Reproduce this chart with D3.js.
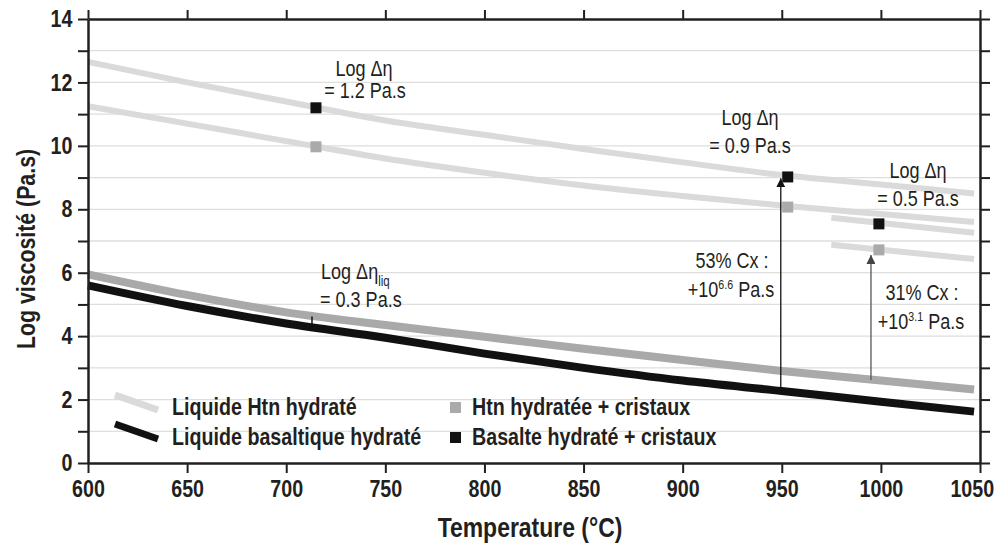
<!DOCTYPE html>
<html>
<head>
<meta charset="utf-8">
<script src="https://d3js.org/d3.v7.min.js"></script>
<style>
  body { margin: 0; background: #fff; }
  text { font-family: "Liberation Sans", Arial, sans-serif; fill: #231f20; }
  .axis path, .axis line { stroke: #231f20; }
</style>
</head>
<body>
<svg width="1000" height="544"></svg>
<script>
// liquid viscosity curves (log Pa.s) vs temperature
const temps = [600, 650, 700, 750, 800, 850, 900, 950, 1000, 1047];
const htnHigh = [12.65, 12.0, 11.4, 10.8, 10.35, 9.9, 9.48, 9.08, 8.78, 8.5];
const htnLow = [11.25, 10.7, 10.15, 9.6, 9.15, 8.75, 8.42, 8.12, 7.85, 7.6];
const htnLiquid = [5.95, 5.3, 4.75, 4.35, 3.98, 3.6, 3.25, 2.9, 2.6, 2.32];
const basaltLiquid = [5.6, 4.95, 4.4, 3.95, 3.45, 3.0, 2.6, 2.27, 1.93, 1.62];

// short segments near 1000 °C
const shortTemps = [975, 1047];
const shortHigh = [7.73, 7.26];
const shortLow = [6.88, 6.43];

// crystal-bearing samples
const crystTemps = [715, 953, 999];
const htnCryst = [9.97, 8.07, 6.72];
const basaltCryst = [11.2, 9.02, 7.54];

// arrows (from liquid curve up to crystal-bearing sample)
const arrowTemps = [949.5, 995];
const arrowFrom = [2.3, 2.62];
const arrowTo = [8.98, 6.56];

const xTicks = [600, 650, 700, 750, 800, 850, 900, 950, 1000, 1050];
const yTicks = [0, 1, 2, 3, 4, 5, 6, 7, 8, 9, 10, 11, 12, 13, 14];

const NARROW = 0.82; // squeeze text to look like a condensed face

const svg = d3.select("svg");
const x = d3.scaleLinear().domain([600, 1050]).range([88, 980]);
const y = d3.scaleLinear().domain([0, 14]).range([463, 19]);

// grid
svg.append("g").selectAll("line")
  .data(yTicks.filter(d => d > 0 && d < 14))
  .enter().append("line")
  .attr("x1", x(600)).attr("x2", x(1050))
  .attr("y1", d => y(d)).attr("y2", d => y(d))
  .style("stroke", "#dedede").style("stroke-width", 1.3);

const line = (xs, ys) => d3.line().curve(d3.curveMonotoneX)
  .x((d, i) => x(xs[i])).y(d => y(d))(ys);

const curves = [
  { ys: htnHigh, xs: temps, color: "#dadada", w: 6 },
  { ys: htnLow, xs: temps, color: "#dadada", w: 6 },
  { ys: shortHigh, xs: shortTemps, color: "#dadada", w: 6 },
  { ys: shortLow, xs: shortTemps, color: "#dadada", w: 6 },
  { ys: htnLiquid, xs: temps, color: "#a9a9a9", w: 8 },
  { ys: basaltLiquid, xs: temps, color: "#111", w: 8 }
];
svg.append("g").selectAll("path")
  .data(curves).enter().append("path")
  .attr("d", d => line(d.xs, d.ys))
  .style("fill", "none")
  .style("stroke", d => d.color)
  .style("stroke-width", d => d.w);

// arrows
const defs = svg.append("defs");
["#111", "#444"].forEach((c, i) => {
  defs.append("marker").attr("id", "arr" + i)
    .attr("viewBox", "0 0 10 10").attr("refX", 10).attr("refY", 5)
    .attr("markerWidth", 9).attr("markerHeight", 9)
    .attr("markerUnits", "userSpaceOnUse").attr("orient", "auto")
    .append("path").attr("d", "M0,0L10,5L0,10Z").style("fill", c);
});
svg.append("g").selectAll("line")
  .data(arrowTemps).enter().append("line")
  .attr("x1", d => x(d)).attr("x2", d => x(d))
  .attr("y1", (d, i) => y(arrowFrom[i])).attr("y2", (d, i) => y(arrowTo[i]))
  .style("stroke", (d, i) => i ? "#555" : "#111")
  .style("stroke-width", 1.3)
  .attr("marker-end", (d, i) => "url(#arr" + i + ")");

// small tick between liquids at 715
svg.append("line")
  .attr("x1", x(713)).attr("x2", x(713))
  .attr("y1", y(4.3)).attr("y2", y(4.62))
  .style("stroke", "#111").style("stroke-width", 1.5);

// squares
const sq = 11;
[[htnCryst, "#aaaaaa"], [basaltCryst, "#111"]].forEach(([vals, c]) => {
  svg.append("g").selectAll("rect")
    .data(vals).enter().append("rect")
    .attr("x", (d, i) => x(crystTemps[i]) - sq / 2)
    .attr("y", d => y(d) - sq / 2)
    .attr("width", sq).attr("height", sq)
    .style("fill", c);
});

// axes
const fmtBold = g => g.selectAll("text")
  .attr("transform", `scale(${NARROW},1)`)
  .style("font-size", "24px").style("font-weight", "bold").style("fill", "#231f20");
const styleAxis = g => {
  g.attr("class", "axis");
  g.select(".domain").style("stroke-width", 2.5);
  g.selectAll(".tick line").style("stroke-width", 2);
};

const xAxisG = svg.append("g").attr("transform", "translate(0,463)")
  .call(d3.axisBottom(x).tickValues(xTicks).tickSize(10).tickSizeOuter(0).tickPadding(7)
    .tickFormat(d3.format("d")))
  .call(styleAxis).call(fmtBold);
// keep the last label inside the frame
xAxisG.selectAll(".tick text").filter(d => d === 1050).attr("x", -10);

svg.append("g").attr("transform", "translate(0,19)")
  .call(d3.axisTop(x).tickValues(xTicks).tickSize(9).tickSizeOuter(0).tickFormat(""))
  .call(styleAxis);
svg.append("g").attr("transform", "translate(88,0)")
  .call(d3.axisLeft(y).tickValues(yTicks).tickSize(10).tickSizeOuter(0).tickPadding(9)
    .tickFormat(d => d % 2 === 0 ? d : ""))
  .call(styleAxis).call(fmtBold);
svg.append("g").attr("transform", "translate(980,0)")
  .call(d3.axisRight(y).tickValues(yTicks).tickSize(10).tickSizeOuter(0).tickFormat(""))
  .call(styleAxis);

// text helper: condensed look by horizontal squeeze
const label = (x0, y0, anchor, size, weight) => svg.append("text")
  .attr("transform", `translate(${x0},${y0}) scale(${NARROW},1)`)
  .attr("text-anchor", anchor)
  .style("font-size", size + "px")
  .style("font-weight", weight || "normal");

// axis titles
label(530, 537, "middle", 28, "bold").text("Temperature (°C)");
svg.append("text")
  .attr("transform", `translate(35,249) rotate(-90) scale(${NARROW},1)`)
  .attr("text-anchor", "middle")
  .style("font-size", "26px").style("font-weight", "bold")
  .text("Log viscosité (Pa.s)");

// annotations
const notes = [
  { x: 364, y: 76, t: "Log Δη" }, { x: 365, y: 98, t: "= 1.2 Pa.s" },
  { x: 750, y: 125, t: "Log Δη" }, { x: 750, y: 153, t: "= 0.9 Pa.s" },
  { x: 918, y: 178, t: "Log Δη" }, { x: 918, y: 206, t: "= 0.5 Pa.s" },
  { x: 732, y: 268, t: "53% Cx :" },
  { x: 922, y: 300, t: "31% Cx :" }
];
notes.forEach(d => label(d.x, d.y, "middle", 22).text(d.t));

const powNote = (cx, yb, exp) => {
  const t = label(cx, yb, "middle", 22);
  t.append("tspan").text("+10");
  t.append("tspan").attr("dy", -8).style("font-size", "13px").text(exp);
  t.append("tspan").attr("dy", 8).text(" Pa.s");
};
powNote(731, 297, "6.6");
powNote(921, 329, "3.1");

const liq = label(321, 279, "start", 22);
liq.append("tspan").text("Log Δη");
liq.append("tspan").attr("dy", 7).style("font-size", "14px").text("liq");
label(320, 307, "start", 22).text("= 0.3 Pa.s");

// legend
const legLines = [
  { y1: 395, y2: 410, c: "#dadada", label: "Liquide Htn hydraté", ty: 415 },
  { y1: 424, y2: 439, c: "#111", label: "Liquide basaltique hydraté", ty: 445 }
];
svg.append("g").selectAll("line").data(legLines).enter().append("line")
  .attr("x1", 115).attr("x2", 158)
  .attr("y1", d => d.y1).attr("y2", d => d.y2)
  .style("stroke", d => d.c).style("stroke-width", 7);
legLines.forEach(d => label(172, d.ty, "start", 24, "bold").text(d.label));

const legSq = [
  { c: "#aaaaaa", label: "Htn hydratée + cristaux", ty: 415 },
  { c: "#111", label: "Basalte hydraté + cristaux", ty: 445 }
];
svg.append("g").selectAll("rect").data(legSq).enter().append("rect")
  .attr("x", 450).attr("y", d => d.ty - 13)
  .attr("width", 11).attr("height", 11)
  .style("fill", d => d.c);
legSq.forEach(d => label(472, d.ty, "start", 24, "bold").text(d.label));
</script>
</body>
</html>
